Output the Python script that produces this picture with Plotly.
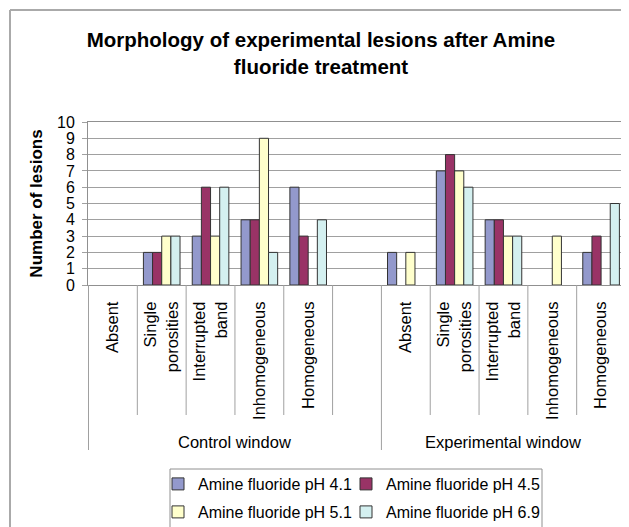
import plotly.graph_objects as go

# ---- data ----
group_names = ["Control window", "Experimental window"]
groups = ["Control window"] * 6 + ["Experimental window"] * 5
categories = ["Absent", "Single<br>porosities", "Interrupted<br>band", "Inhomogeneous", "Homogeneous", "",
              "Absent", "Single<br>porosities", "Interrupted<br>band", "Inhomogeneous", "Homogeneous"]
series_names = ["Amine fluoride pH 4.1", "Amine fluoride pH 4.5", "Amine fluoride pH 5.1", "Amine fluoride pH 6.9"]
ph41 = [0, 2, 3, 4, 6, None, 2, 7, 4, 0, 2]
ph45 = [0, 2, 6, 4, 3, None, 0, 8, 4, 0, 3]
ph51 = [0, 3, 3, 9, 0, None, 2, 7, 3, 3, 0]
ph69 = [0, 3, 6, 2, 4, None, 0, 6, 3, 0, 5]
y_ticks = list(range(0, 11))

colors = ["#9399CC", "#993366", "#FFFFCC", "#D4F0F0"]
legend_ids = ["legend", "legend2", "legend3", "legend4"]

# unique category keys (group + label) so repeated labels stay distinct
keys = [f"{g}|{c}|{i}" for i, (g, c) in enumerate(zip(groups, categories))]

# page is offset by the default 8px body margin
OFF = 8
PAGE_W, PAGE_H = 629, 527
W, H = PAGE_W - OFF, PAGE_H - OFF
# plot area in page pixels
PL, PR, PT, PB = 88, 626, 122, 285
L, R, T, B = PL - OFF, W - (PR - OFF), PT - OFF, H - (PB - OFF)
pw, ph = W - L - R, H - T - B

def px_x(p):  # page px -> paper x
    return (p - OFF - L) / pw

def px_y(p):  # page px -> paper y
    return (PB - p) / ph

FONT = "Liberation Sans, Arial, sans-serif"
LINE = "#A0A0A0"

fig = go.Figure()
for name, vals, c, lg in zip(series_names, [ph41, ph45, ph51, ph69], colors, legend_ids):
    fig.add_trace(go.Bar(
        x=keys, y=[v if v else None for v in vals],  # zero-height bars are not drawn (as in the original)
        name=name, legend=lg,
        marker=dict(color=c, line=dict(color="#333333", width=1)),
    ))

leg_common = dict(orientation="h", xanchor="left", yanchor="top",
                  borderwidth=0, bgcolor="rgba(0,0,0,0)", font=dict(size=16, family=FONT),
                  itemwidth=30)
# legend entry positions (page px): 2 columns x 2 rows
leg_pos = [(158, 467), (346, 467), (158, 495), (346, 495)]

fig.update_layout(
    width=W, height=H,
    margin=dict(l=L, r=R, t=T, b=B, autoexpand=False),
    paper_bgcolor="white", plot_bgcolor="white",
    font=dict(family=FONT, color="black", size=16),
    barmode="group", bargap=0.25, bargroupgap=0,
    title=dict(text="<b>Morphology of experimental lesions after Amine<br>fluoride treatment</b>",
               x=(321 - OFF) / W, xref="container", xanchor="center", y=1 - 39 / H, yanchor="top",
               font=dict(size=20.5, family=FONT)),
    showlegend=True,
    **{lid: dict(x=px_x(lx), y=px_y(ly), **leg_common) for lid, (lx, ly) in zip(legend_ids, leg_pos)},
)

fig.update_yaxes(range=[0, 10], tickvals=y_ticks, showgrid=True, gridcolor=LINE, gridwidth=1,
                 showline=True, linecolor="#909090", mirror=True, zeroline=False,
                 ticks="outside", ticklen=5, tickcolor=LINE, ticklabelstandoff=4,
                 tickfont=dict(size=16), automargin=False,
                 title=dict(text="<b>Number of lesions</b>", font=dict(size=17), standoff=10))
fig.update_xaxes(type="category", categoryorder="array", categoryarray=keys,
                 tickvals=keys, ticktext=categories,
                 showline=True, linecolor="#909090", mirror=True,
                 ticks="", tickangle=-90, tickfont=dict(size=16.5), automargin=False,
                 ticklabelstandoff=9)

# category separators below the axis
n = len(keys)
for i in range(n + 1):
    long = i in (0, 6, n)
    fig.add_shape(type="line", xref="x", yref="paper", x0=i - 0.5, x1=i - 0.5,
                  y0=0, y1=px_y(450 if long else 415), line=dict(color=LINE, width=1))

# group labels
for gname in group_names:
    idx = [i for i, g in enumerate(groups) if g == gname]
    fig.add_annotation(x=(idx[0] + idx[-1]) / 2, xref="x", y=px_y(442), yref="paper",
                       text=gname, showarrow=False, font=dict(size=16.5, family=FONT),
                       xanchor="center", yanchor="middle")

# legend box
fig.add_shape(type="rect", xref="paper", yref="paper", x0=px_x(170), x1=px_x(542),
              y0=px_y(PAGE_H + 5), y1=px_y(469), line=dict(color="#909090", width=1))

# outer frame of the chart area
fig.add_shape(type="line", xref="paper", yref="paper", x0=px_x(10), x1=px_x(10),
              y0=px_y(PAGE_H + 5), y1=px_y(10), line=dict(color="#AAAAAA", width=2))
fig.add_shape(type="line", xref="paper", yref="paper", x0=px_x(10), x1=px_x(PAGE_W + 5),
              y0=px_y(10), y1=px_y(10), line=dict(color="#AAAAAA", width=2))

fig.write_html("out.html")
